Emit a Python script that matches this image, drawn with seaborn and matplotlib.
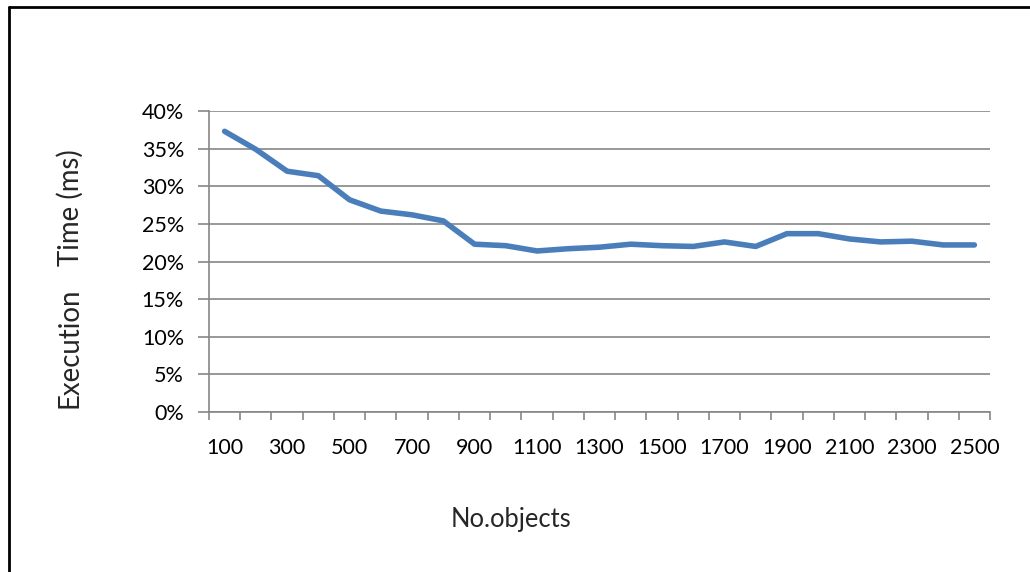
import matplotlib
matplotlib.use("Agg")
import matplotlib.pyplot as plt
import seaborn as sns
import numpy as np
import pandas as pd
from matplotlib.ticker import PercentFormatter, FixedLocator
from matplotlib.lines import Line2D

objects = [str(v) for v in range(100, 2600, 100)]
exec_time = [0.373, 0.349, 0.320, 0.314, 0.282, 0.267, 0.262, 0.254, 0.223, 0.221,
             0.214, 0.217, 0.219, 0.223, 0.221, 0.220, 0.226, 0.220, 0.237, 0.237,
             0.230, 0.226, 0.227, 0.222, 0.222]
y_ticks = [0, 0.05, 0.10, 0.15, 0.20, 0.25, 0.30, 0.35, 0.40]

sns.set_theme(style="white")
plt.rcParams['font.family'] = ['Lato', 'DejaVu Sans']

df = pd.DataFrame({"objects": objects, "time": exec_time})

W, H = 1030, 572
fig = plt.figure(figsize=(W / 100, H / 100), dpi=100)
ax = fig.add_axes([209 / W, 1 - 412 / H, (990 - 209) / W, (412 - 111) / H])

sns.lineplot(data=df, x="objects", y="time", ax=ax, color="#4A7EBB",
             linewidth=4, solid_capstyle="round", solid_joinstyle="round")

grid_c = "#868686"
ax.set_ylim(0, 0.40)
ax.set_xlim(-0.5, len(objects) - 0.5)
ax.set_yticks(y_ticks)
ax.yaxis.set_major_formatter(PercentFormatter(1.0, decimals=0))
ax.yaxis.grid(True, color=grid_c, linewidth=1.2)
ax.xaxis.grid(False)
ax.set_axisbelow(True)

major_pos = list(range(0, len(objects), 2))
ax.set_xticks(major_pos)
ax.set_xticklabels([objects[i] for i in major_pos])
ax.xaxis.set_minor_locator(FixedLocator(np.arange(-0.5, len(objects), 1.0)))
ax.tick_params(axis="x", which="major", length=0, pad=19, labelsize=15.5, labelcolor="black")
ax.tick_params(axis="x", which="minor", length=6, color=grid_c, width=1.2, direction="out")
ax.tick_params(axis="y", which="major", length=8, color=grid_c, width=1.2, direction="out",
               labelsize=15.5, labelcolor="black", pad=10)
ax.tick_params(bottom=True, left=True)
ax.xaxis.set_tick_params(which="minor", bottom=True)

for s in ["top", "right"]:
    ax.spines[s].set_visible(False)
for s in ["left", "bottom"]:
    ax.spines[s].set_color(grid_c)
    ax.spines[s].set_linewidth(1.2)

ax.set_xlabel("")
ax.set_ylabel("")

renderer = fig.canvas.get_renderer()

def fit_size(txt, target, dim):
    bb = txt.get_window_extent(renderer=renderer)
    cur = bb.width if dim == "w" else bb.height
    txt.set_fontsize(txt.get_fontsize() * target / cur)

xl = fig.text(511 / W, 1 - 527 / H, "No.objects", ha="center", va="baseline", fontsize=15)
fit_size(xl, 121, "w")

y1 = fig.text(70 / W, 1 - 347.5 / H, "Execution", ha="center", va="center",
              rotation=90, fontsize=16)
fit_size(y1, 121, "h")
y2 = fig.text(70 / W, 1 - 207.5 / H, "Time (ms)", ha="center", va="center",
              rotation=90, fontsize=y1.get_fontsize())

fig.add_artist(Line2D([8.5 / W, 1.01], [1 - 6.5 / H, 1 - 6.5 / H],
                      transform=fig.transFigure, color="black", linewidth=2))
fig.add_artist(Line2D([8.5 / W, 8.5 / W], [-0.01, 1 - 6.5 / H],
                      transform=fig.transFigure, color="black", linewidth=2))

fig.savefig("out.png", dpi=100)
